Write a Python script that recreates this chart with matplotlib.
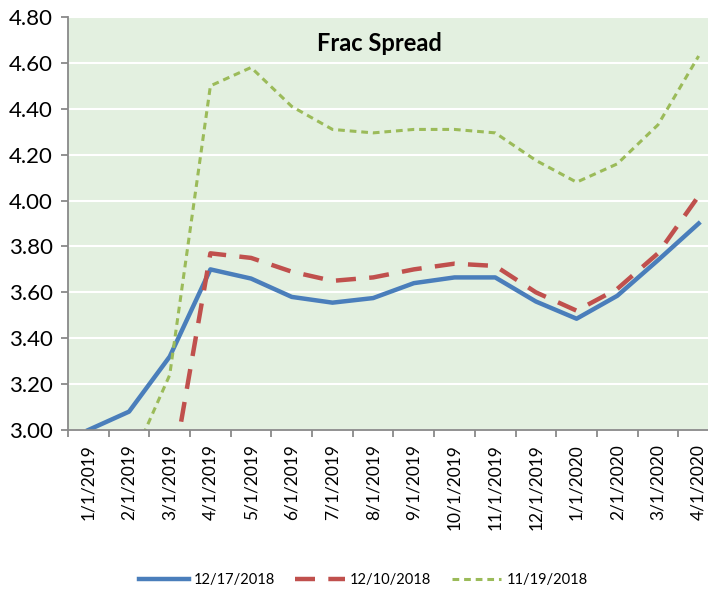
import numpy as np
import matplotlib
matplotlib.use('Agg')
import matplotlib.pyplot as plt

# data
months = ['1/1/2019', '2/1/2019', '3/1/2019', '4/1/2019', '5/1/2019', '6/1/2019',
          '7/1/2019', '8/1/2019', '9/1/2019', '10/1/2019', '11/1/2019', '12/1/2019',
          '1/1/2020', '2/1/2020', '3/1/2020', '4/1/2020']
s_1217 = [3.00, 3.08, 3.32, 3.70, 3.66, 3.58, 3.555, 3.575, 3.64, 3.665, 3.665,
          3.56, 3.485, 3.585, 3.74, 3.90]
s_1210 = [np.nan, np.nan, 2.75, 3.77, 3.75, 3.69, 3.65, 3.665, 3.70, 3.725, 3.715,
          3.60, 3.52, 3.615, 3.77, 4.02]
s_1119 = [np.nan, 2.84, 3.24, 4.50, 4.58, 4.41, 4.31, 4.295, 4.31, 4.31, 4.295,
          4.175, 4.08, 4.16, 4.33, 4.63]
yticks = [3.00, 3.20, 3.40, 3.60, 3.80, 4.00, 4.20, 4.40, 4.60, 4.80]

plt.rcParams['font.family'] = ['Lato', 'DejaVu Sans']

fig = plt.figure(figsize=(7.08, 5.92), dpi=100)
ax = fig.add_axes([68/708, 1-430/592, 651/708, 413/592])
ax.set_facecolor('#e3f0e0')

x = np.arange(len(months))
ax.plot(x, s_1217, color='#4a7ebb', lw=3.2, label='12/17/2018', zorder=3)
ax.plot(x, s_1210, color='#c0504d', lw=3.2, dashes=(4.5, 3), label='12/10/2018', zorder=3)
ax.plot(x, s_1119, color='#9bbb59', lw=2.2, dashes=(2.2, 1.6), label='11/19/2018', zorder=3)

ax.set_ylim(3.0, 4.8)
ax.set_yticks(yticks)
ax.set_yticklabels(['%.2f' % v for v in yticks], fontsize=16)
ax.set_xlim(-0.5, len(months)-0.5)
ax.set_xticks(x)
ax.set_xticklabels(months, rotation=90, fontsize=12.5)
ax.set_xticks(np.arange(len(months)+1)-0.5, minor=True)
ax.tick_params(axis='x', which='major', length=0, pad=10)
ax.tick_params(axis='x', which='minor', length=5, color='#898989', width=1.3)
ax.tick_params(axis='y', length=5, color='#898989', width=1.3, pad=6)

ax.grid(axis='y', color='white', lw=1.5)
ax.set_axisbelow(True)
for s in ['top', 'right']:
    ax.spines[s].set_visible(False)
for s in ['left', 'bottom']:
    ax.spines[s].set_color('#898989')
    ax.spines[s].set_linewidth(1.3)
    ax.spines[s].set_zorder(4)

ax.text(0.479, 0.935, 'Frac Spread', transform=ax.transAxes, ha='center', va='center',
        fontsize=17, fontweight='bold')

fig.legend(loc='center', bbox_to_anchor=(0.513, 0.02), ncol=3, frameon=False,
           fontsize=10.5, handlelength=3.4, handletextpad=0.35, columnspacing=1.4)

fig.savefig('out.png', dpi=100)
